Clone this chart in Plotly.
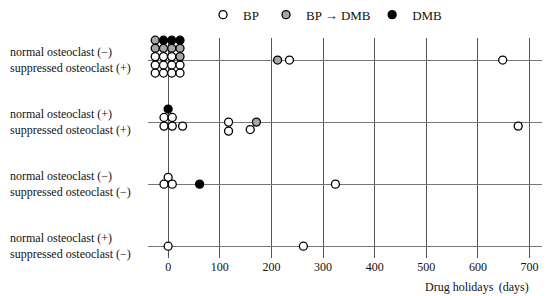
import plotly.graph_objects as go

# rows of the chart, top to bottom (y = 3 .. 0)
row_labels = [
    "normal osteoclast (\u2212)<br>suppressed osteoclast (+)",
    "normal osteoclast (+)<br>suppressed osteoclast (+)",
    "normal osteoclast (\u2212)<br>suppressed osteoclast (\u2212)",
    "normal osteoclast (+)<br>suppressed osteoclast (\u2212)",
]
row_y = [3, 2, 1, 0]

# each point: row index, drug holidays (days), stack offset inside the row
bp_row = [0] * 13 + [1] * 9 + [2] * 4 + [3] * 2
bp_days = [-25, -9, 7,
           -25, -9, 7, 23,
           -25, -9, 7, 23,
           235, 648,
           -8, 8, -8, 8, 28, 117, 117, 159, 678,
           0, -8, 8, 324,
           0, 262]
bp_stack = [0.055, 0.055, 0.055,
            -0.08, -0.08, -0.08, -0.08,
            -0.21, -0.21, -0.21, -0.21,
            0, 0,
            0.075, 0.075, -0.065, -0.065, -0.065, 0, -0.145, -0.12, -0.065,
            0.11, 0, 0, 0,
            0, 0]

bpdmb_row = [0, 0, 0, 0, 0, 0, 0, 1]
bpdmb_days = [-25, -25, -9, 7, 23, 23, 212, 171]
bpdmb_stack = [0.32, 0.19, 0.19, 0.19, 0.19, 0.055, 0, 0]

dmb_row = [0, 0, 0, 1, 2]
dmb_days = [-9, 7, 23, 0, 61]
dmb_stack = [0.32, 0.32, 0.32, 0.21, 0]

x_ticks = [0, 100, 200, 300, 400, 500, 600, 700]

FONT = "Liberation Serif, Times New Roman, serif"

series = [
    ("BP", "white", bp_days, bp_row, bp_stack, "legend", 0.139),
    ("BP \u2192 DMB", "#a6a6a6", bpdmb_days, bpdmb_row, bpdmb_stack, "legend2", 0.298),
    ("DMB", "black", dmb_days, dmb_row, dmb_stack, "legend3", 0.566),
]

fig = go.Figure()
legends = {}
for name, color, d, r, s, lg, lx in series:
    fig.add_trace(go.Scatter(
        x=d, y=[row_y[i] + o for i, o in zip(r, s)], mode="markers", name=name,
        marker=dict(size=8, color=color, line=dict(color="black", width=1.3)),
        cliponaxis=False, legend=lg,
    ))
    legends[lg] = dict(orientation="h", x=lx, y=1.106, xanchor="left", yanchor="middle",
                       font=dict(family=FONT, size=13, color="#111"),
                       bgcolor="rgba(0,0,0,0)", itemclick=False)

for label, y in zip(row_labels, row_y):
    fig.add_annotation(text=label, xref="paper", yref="y", x=-0.3535, y=y,
                       xanchor="left", yanchor="middle", align="left", showarrow=False,
                       font=dict(family=FONT, size=12, color="#111"))

fig.add_annotation(text="Drug holidays\u2009 (days)", xref="x", yref="paper", x=703, y=-0.132,
                   xanchor="right", yanchor="middle", showarrow=False,
                   font=dict(family=FONT, size=12, color="#111"))

fig.update_xaxes(range=[-39, 728], tickvals=x_ticks, showgrid=True, gridcolor="#555",
                 gridwidth=1, zeroline=False, showline=False, ticks="",
                 tickfont=dict(family=FONT, size=12, color="#111"), fixedrange=True)
fig.update_yaxes(range=[-0.19, 3.355], tickvals=row_y, showticklabels=False, showgrid=True,
                 gridcolor="#777", gridwidth=1, zeroline=False, showline=False, fixedrange=True)

# page body has an 8px margin, so the figure is 8px smaller than the window
fig.update_layout(
    width=542, height=288,
    margin=dict(l=140, r=6, t=30, b=38, autoexpand=False),
    plot_bgcolor="white", paper_bgcolor="white",
    showlegend=True,
    **legends,
)

fig.write_html("out.html")
